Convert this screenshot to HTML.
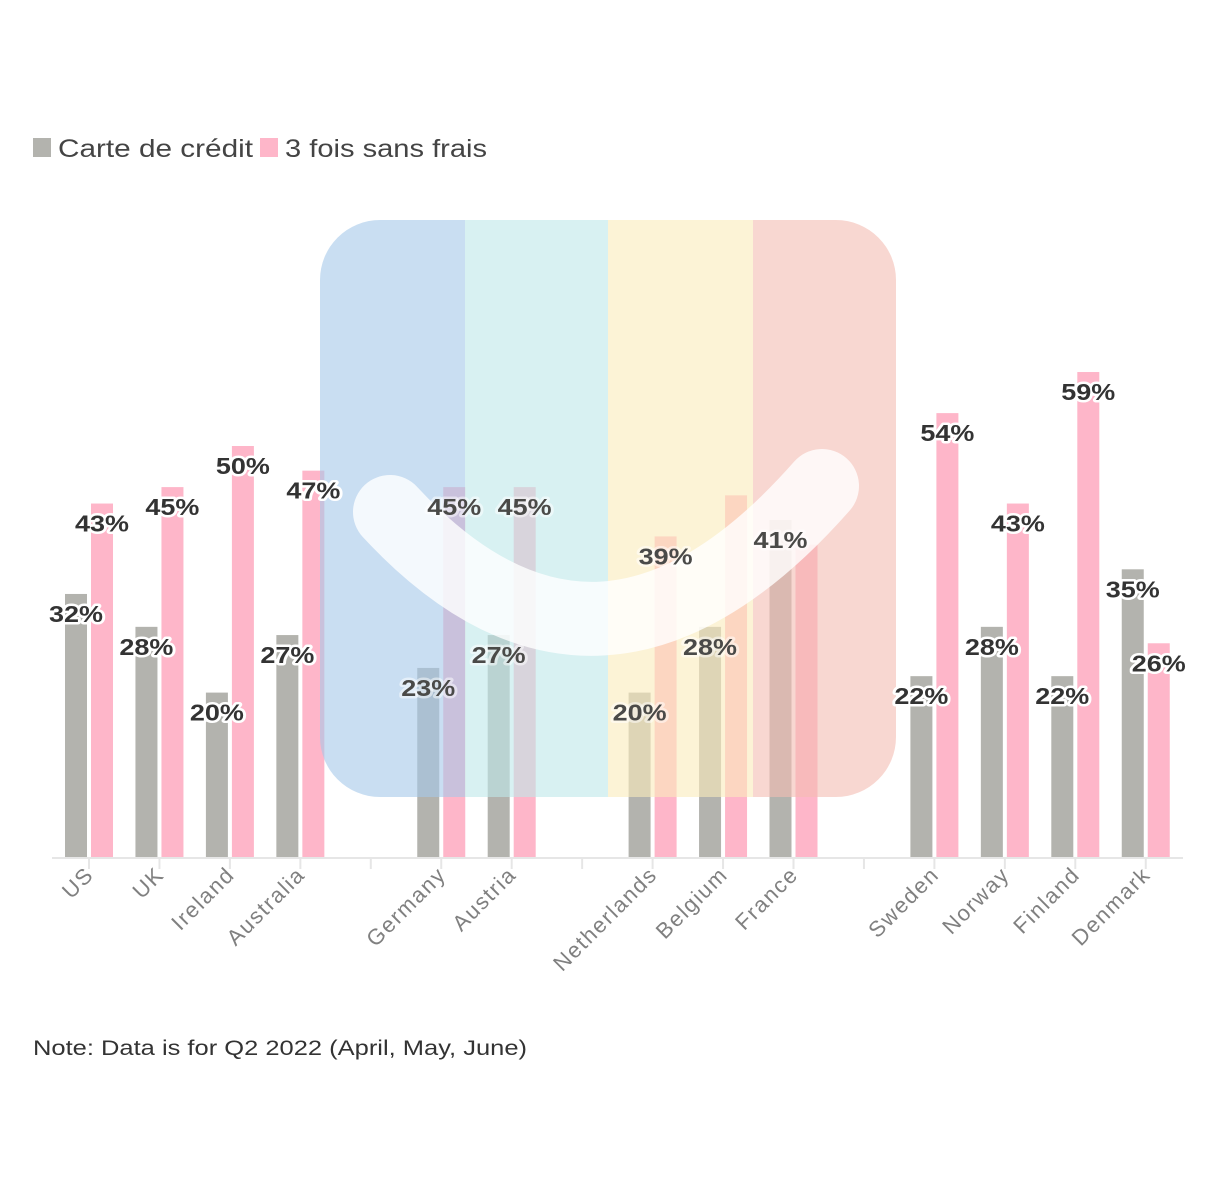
<!DOCTYPE html>
<html><head><meta charset="utf-8"><style>
body{margin:0;background:#fff;width:1216px;height:1174px;overflow:hidden;font-family:"Liberation Sans",sans-serif}
</style></head><body>
<svg width="1216" height="1174" id="svg">
<g font-size="25" fill="#444">
<rect x="33" y="138" width="18" height="19" fill="#b3b3ae"/>
<text x="58" y="157" textLength="195" lengthAdjust="spacingAndGlyphs">Carte de crédit</text>
<rect x="260" y="138" width="18" height="19" fill="#feb6c9"/>
<text x="285" y="157" textLength="202" lengthAdjust="spacingAndGlyphs">3 fois sans frais</text>
</g>
<g id="bars"></g>
<g id="axis"></g>
<g id="logo" opacity="0.6">
<clipPath id="lc"><rect x="320" y="220" width="576" height="577" rx="60"/></clipPath>
<g clip-path="url(#lc)">
<rect x="320" y="220" width="145" height="577" fill="#a6c9ea"/>
<rect x="465" y="220" width="143" height="577" fill="#bfe9ea"/>
<rect x="608" y="220" width="145" height="577" fill="#fbecbc"/>
<rect x="753" y="220" width="143" height="577" fill="#f5bdb3"/>
</g>
</g>
<path d="M390 512 Q600 738 822 486" stroke="#fff" stroke-width="74" stroke-linecap="round" fill="none" opacity="0.8"/>
<g id="labels"></g>
<text x="33" y="1055" font-size="21" fill="#333" textLength="494" lengthAdjust="spacingAndGlyphs">Note: Data is for Q2 2022 (April, May, June)</text>
</svg>
<script>
const categories=["US","UK","Ireland","Australia","Germany","Austria","Netherlands","Belgium","France","Sweden","Norway","Finland","Denmark"];
const slots=[0,1,2,3,5,6,8,9,10,12,13,14,15];
const gapSlots=[4,7,11];
const creditValues=[32,28,20,27,23,27,20,28,41,22,28,22,35];
const fraisValues=[43,45,50,47,45,45,39,44,38,54,43,59,26];
const creditLabels=["32%","28%","20%","27%","23%","27%","20%","28%","41%","22%","28%","22%","35%"];
const fraisLabels=["43%","45%","50%","47%","45%","45%","39%","","","54%","43%","59%","26%"];
const NS="http://www.w3.org/2000/svg";
const base=857, k=8.22;
const y=v=>base-v*k;
const xs=s=>89+s*70.45;
function mk(t,a,p){const e=document.createElementNS(NS,t);for(const n in a)e.setAttribute(n,a[n]);p.appendChild(e);return e;}
const bars=document.getElementById('bars'),labels=document.getElementById('labels'),axis=document.getElementById('axis');
categories.forEach((c,i)=>{
 const cx=xs(slots[i]);
 [[creditValues[i],creditLabels[i],cx-24,'#b3b3ae','credit'],[fraisValues[i],fraisLabels[i],cx+2,'#feb6c9','3x']].forEach(([v,l,x,col,nm])=>{
  const r=mk('rect',{x:x,y:y(v),width:22,height:v*k,fill:col},bars);
  
  
  if(l){
   const inLogo=x>320&&x<896;
   const t=mk('text',{x:x+11,y:y(v)+28,'text-anchor':'middle','font-size':'23','font-weight':'bold',fill:inLogo?'#4a4a48':'#333',stroke:'#fff','stroke-opacity':inLogo?'0.5':'1','stroke-width':'5','paint-order':'stroke','stroke-linejoin':'round',textLength:'54',lengthAdjust:'spacingAndGlyphs'},labels);
   t.textContent=l;
   
   
  }
 });
 const tk=mk('line',{x1:cx,x2:cx,y1:base,y2:869,stroke:'#e6e6e6','stroke-width':2},axis);
 
 
 const t=mk('text',{x:cx+6,y:876,'text-anchor':'end','font-size':'22','letter-spacing':'1.6',fill:'#808080',transform:`rotate(-45 ${cx+6} 876)`},axis);
 t.textContent=c;
 
 
});
gapSlots.forEach(s=>{
 const tk=mk('line',{x1:xs(s),x2:xs(s),y1:base,y2:869,stroke:'#e6e6e6','stroke-width':2},axis);
 
 
});
const ax=mk('line',{x1:52,x2:1183,y1:base+1,y2:base+1,stroke:'#e6e6e6','stroke-width':2},axis);


</script>
</body></html>
